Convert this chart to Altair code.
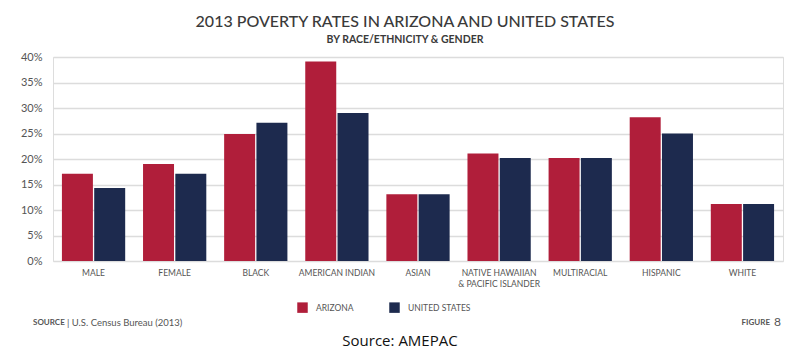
import altair as alt
import pandas as pd

categories = ["MALE", "FEMALE", "BLACK", "AMERICAN INDIAN", "ASIAN",
              "NATIVE HAWAIIAN|& PACIFIC ISLANDER", "MULTIRACIAL", "HISPANIC", "WHITE"]
arizona = [17.1, 19.0, 24.9, 39.1, 13.1, 21.1, 20.2, 28.2, 11.2]
united_states = [14.3, 17.1, 27.1, 29.0, 13.1, 20.2, 20.2, 25.0, 11.2]
series = ["ARIZONA", "UNITED STATES"]
colors = ["#B01E3A", "#1D2A4E"]
y_ticks = [0, 5, 10, 15, 20, 25, 30, 35, 40]

title_text = "2013 POVERTY RATES IN ARIZONA AND UNITED STATES"
subtitle_text = "BY RACE/ETHNICITY & GENDER"
source_label = "SOURCE"
source_text = "| U.S. Census Bureau (2013)"
figure_label = "FIGURE"
figure_num = "8"
credit_text = "Source: AMEPAC"

rows = []
for c, a, u in zip(categories, arizona, united_states):
    rows.append({"category": c, "series": series[0], "value": a / 100})
    rows.append({"category": c, "series": series[1], "value": u / 100})
df = pd.DataFrame(rows)

FONT = "Lato"
GRAY = "#555555"

bars = alt.Chart(df).mark_bar().encode(
    x=alt.X("category:N", sort=categories, title=None,
            scale=alt.Scale(paddingInner=0.22, paddingOuter=0.11),
            axis=alt.Axis(labelExpr="split(datum.label, '|')", labelAngle=0,
                          labelFontSize=8.5, labelColor=GRAY, labelFont=FONT,
                          labelPadding=7, ticks=False, domain=False,
                          labelLimit=200, labelLineHeight=11)),
    xOffset=alt.XOffset("series:N", sort=series,
                        scale=alt.Scale(paddingInner=0.04)),
    y=alt.Y("value:Q", title=None,
            scale=alt.Scale(domain=[0, 0.4], nice=False),
            axis=alt.Axis(values=[v / 100 for v in y_ticks], format=".0%",
                          labelFontSize=11, labelColor=GRAY, labelFont=FONT,
                          labelPadding=11, ticks=False, domain=False,
                          gridColor="#DCDCDC", gridWidth=1.5)),
    color=alt.Color("series:N", sort=series,
                    scale=alt.Scale(domain=series, range=colors),
                    legend=alt.Legend(title=None, orient="none", direction="horizontal",
                                      legendX=244, legendY=245,
                                      symbolType="square", symbolSize=110,
                                      symbolStrokeWidth=0,
                                      labelFontSize=8.5, labelColor=GRAY, labelFont=FONT,
                                      columnPadding=35, labelOffset=8)),
)

one = pd.DataFrame({"k": [0]})

def txt(text, x, y, size, weight="normal", align="left", color=GRAY, font=FONT):
    return alt.Chart(one).mark_text(
        text=text, fontSize=size, fontWeight=weight, align=align,
        baseline="middle", color=color, font=font
    ).encode(x=alt.value(x), y=alt.value(y))

footer = (
    txt(source_label, -20, 266, 8, "bold")
    + txt(source_text, 14, 266, 9.5)
    + txt(figure_label, 717, 266, 8, "bold", align="right")
    + txt(figure_num, 728, 265, 12, align="right")
    + txt(credit_text, 347, 284, 15, align="center", color="#111111", font="Open Sans")
)

chart = alt.layer(bars, footer).properties(
    width=730, height=204,
    title=alt.TitleParams(
        text=title_text, subtitle=subtitle_text, anchor="middle", dx=-13,
        font=FONT, fontSize=16, fontWeight=500, color="#3A3A3A",
        subtitleFont=FONT, subtitleFontSize=10.5, subtitleFontWeight="bold",
        subtitleColor="#3A3A3A", subtitlePadding=5, offset=6,
    ),
    padding={"left": 53, "top": 57, "right": 5, "bottom": 90},
    autosize=alt.AutoSizeParams(type="none"),
).configure_view(stroke=None).configure(background="white")

chart.save("out.html", embed_options={"renderer": "svg", "actions": False})
